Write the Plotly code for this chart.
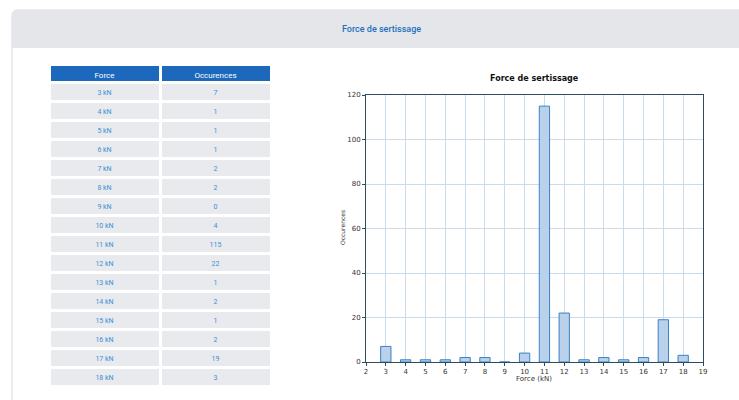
import plotly.graph_objects as go

forces = [3, 4, 5, 6, 7, 8, 9, 10, 11, 12, 13, 14, 15, 16, 17, 18]
occurrences = [7, 1, 1, 1, 2, 2, 0, 4, 115, 22, 1, 2, 1, 2, 19, 3]
force_labels = [f"{f} kN" for f in forces]
table_headers = ["Force", "Occurences"]
page_title = "Force de sertissage"
chart_title = "Force de sertissage"
x_title = "Force (kN)"
y_title = "Occurences"
x_ticks = list(range(2, 20))
y_ticks = [0, 20, 40, 60, 80, 100, 120]

W, H = 739, 400

def px(x):
    return x / W

def py(y):
    return 1 - y / H

fig = go.Figure()

fig.add_trace(go.Table(
    domain=dict(x=[px(49), px(272)], y=[py(389), py(64)]),
    columnwidth=[1, 1],
    header=dict(
        values=table_headers,
        fill_color="#1b68bd",
        line=dict(color="white", width=3),
        font=dict(color="white", size=8, family="Roboto"),
        align="center",
        height=18,
    ),
    cells=dict(
        values=[force_labels, [str(v) for v in occurrences]],
        fill_color="#e8eaed",
        line=dict(color="white", width=3),
        font=dict(color="#3b8fd6", size=7, family="Roboto"),
        align="center",
        height=19,
    ),
))

fig.add_trace(go.Bar(
    x=forces, y=occurrences, width=0.52,
    marker=dict(color="#b9d1ea", line=dict(color="#3a82c4", width=1)),
    xaxis="x", yaxis="y",
))

axis_common = dict(
    showline=True, linecolor="#2e4d5c", linewidth=1, mirror=True,
    ticks="outside", ticklen=3, tickcolor="#2e4d5c",
    tickfont=dict(size=7, color="#333", family="DejaVu Sans"),
    showgrid=True, gridcolor="#c9dced", gridwidth=1, zeroline=False,
    automargin=False,
)

fig.update_layout(
    width=W, height=H,
    margin=dict(l=0, r=0, t=0, b=0, autoexpand=False),
    paper_bgcolor="white", plot_bgcolor="white",
    showlegend=False,
    xaxis=dict(domain=[px(366), px(703)], range=[2, 19], tickvals=x_ticks, **axis_common),
    yaxis=dict(domain=[py(362), py(95)], range=[0, 120], tickvals=y_ticks, **axis_common),
    shapes=[
        dict(type="path", xref="paper", yref="paper",
             path=f"M {px(12)},{py(420)} L {px(12)},{py(16)} Q {px(12)},{py(10)} {px(18)},{py(10)} L {px(745)},{py(10)} L {px(745)},{py(420)} Z",
             fillcolor="white", line=dict(color="#d3d7db", width=1), layer="below"),
        dict(type="path", xref="paper", yref="paper",
             path=f"M {px(12.5)},{py(48)} L {px(12.5)},{py(16)} Q {px(12.5)},{py(10.5)} {px(18)},{py(10.5)} L {px(745)},{py(10.5)} L {px(745)},{py(48)} Z",
             fillcolor="#e4e6e9", line=dict(width=0), layer="below"),
    ],
    annotations=[
        dict(text=page_title, x=px(381), y=py(29), xref="paper", yref="paper",
             xanchor="center", yanchor="middle",
             showarrow=False, font=dict(size=9, color="#1f6fbf", family="Roboto", weight=500)),
        dict(text=f"<b>{chart_title}</b>", x=px(534), y=py(78), xref="paper", yref="paper",
             xanchor="center", yanchor="middle",
             showarrow=False, font=dict(size=8, color="#111", family="DejaVu Sans")),
        dict(text=x_title, x=px(534), y=py(379), xref="paper", yref="paper",
             xanchor="center", yanchor="middle",
             showarrow=False, font=dict(size=7, color="#333", family="DejaVu Sans")),
        dict(text=y_title, x=px(343), y=py(228), xref="paper", yref="paper",
             xanchor="center", yanchor="middle", textangle=-90,
             showarrow=False, font=dict(size=6, color="#333", family="DejaVu Sans")),
    ],
)

fig.write_html(
    "out.html",
    config={"displayModeBar": False},
    post_script="document.body.style.margin='0';document.body.style.overflow='hidden';",
)
